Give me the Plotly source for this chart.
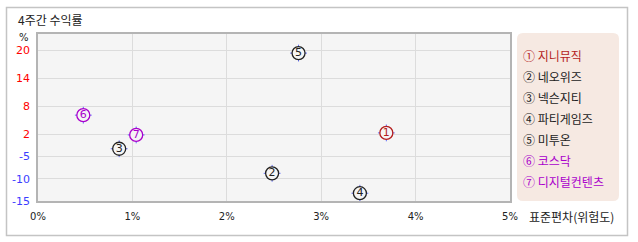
import numpy as np
import plotly.graph_objects as go

# ---- data ----
names = ["지니뮤직", "네오위즈", "넥슨지티", "파티게임즈", "미투온", "코스닥", "디지털컨텐츠"]
marks = ["①", "②", "③", "④", "⑤", "⑥", "⑦"]
digits = ["1", "2", "3", "4", "5", "6", "7"]
risk_std = [3.69, 2.48, 0.86, 3.41, 2.76, 0.48, 1.04]      # % std dev
ret_4w = [2.3, -8.8, -2.6, -13.3, 19.4, 6.1, 1.8]           # % return
colors = ["#b41e1e", "#222222", "#222222", "#222222", "#222222", "#aa00cc", "#aa00cc"]
y_ticks = [-15, -10, -5, 2, 8, 14, 20]
x_ticks = [0, 1, 2, 3, 4, 5]
x_ticktext = ["0%", "1%", "2%", "3%", "4%", "5%"]

# ---- layout geometry ----
W, H = 638, 242
L, R, T, B = 38, 128, 34, 41
PW, PH = W - L - R, H - T - B

# piecewise axis: ticks spaced evenly within negative and positive parts
tick_disp = [0.3, 22.3, 44.7, 66.7, 94.7, 122.7, 150.7]


def ymap(v):
    v = np.asarray(v, dtype=float)
    lo = np.interp(v, y_ticks, tick_disp)
    s_top = (tick_disp[-1] - tick_disp[-2]) / (y_ticks[-1] - y_ticks[-2])
    s_bot = (tick_disp[1] - tick_disp[0]) / (y_ticks[1] - y_ticks[0])
    lo = np.where(v > y_ticks[-1], tick_disp[-1] + (v - y_ticks[-1]) * s_top, lo)
    lo = np.where(v < y_ticks[0], tick_disp[0] + (v - y_ticks[0]) * s_bot, lo)
    return lo


def px(xp):
    return (xp - L) / PW


def py(yp):
    return (H - B - yp) / PH


yd = ymap(ret_4w)
tick_colors = ["#3c3cff" if t < 0 else "#ff0000" for t in y_ticks]

fig = go.Figure()
fig.add_trace(go.Scatter(
    x=risk_std, y=yd, mode="markers", hoverinfo="skip",
    marker=dict(symbol="cross-thin-open", size=12, line=dict(color=colors, width=1)),
))
fig.add_trace(go.Scatter(
    x=risk_std, y=yd, mode="markers+text", text=digits, textposition="middle center",
    textfont=dict(family="DejaVu Sans", size=11, color=colors),
    marker=dict(symbol="circle", size=13, color="#f5f5f5", line=dict(color=colors, width=1.3)),
    hovertext=names,
))

shapes = []
shapes.append(dict(type="rect", xref="paper", yref="paper",
                   x0=px(6.5), x1=px(627.5), y0=py(235.5), y1=py(7.5),
                   line=dict(color="#c4c4c4", width=1.5), fillcolor="rgba(0,0,0,0)", layer="below"))
x0, x1, y0, y1, r = 517, 619, 33, 201, 6
path = (f"M {px(x0 + r)} {py(y0)} L {px(x1 - r)} {py(y0)} "
        f"Q {px(x1)} {py(y0)} {px(x1)} {py(y0 + r)} L {px(x1)} {py(y1 - r)} "
        f"Q {px(x1)} {py(y1)} {px(x1 - r)} {py(y1)} L {px(x0 + r)} {py(y1)} "
        f"Q {px(x0)} {py(y1)} {px(x0)} {py(y1 - r)} L {px(x0)} {py(y0 + r)} "
        f"Q {px(x0)} {py(y0)} {px(x0 + r)} {py(y0)} Z")
shapes.append(dict(type="path", xref="paper", yref="paper", path=path,
                   fillcolor="#f6e9e2", line=dict(width=0), layer="below"))

ann = []
font_k = "Noto Sans CJK KR"
ann.append(dict(text="4주간 수익률", xref="paper", yref="paper", x=px(16), y=py(19),
                xanchor="left", yanchor="middle", showarrow=False,
                font=dict(family=font_k, size=12, color="#222222")))
ann.append(dict(text="%", xref="paper", yref="paper", x=px(24), y=py(37),
                xanchor="center", yanchor="middle", showarrow=False,
                font=dict(family="DejaVu Sans", size=10, color="#222222")))
ann.append(dict(text="표준편차(위험도)", xref="paper", yref="paper", x=px(527), y=py(216),
                xanchor="left", yanchor="middle", showarrow=False,
                font=dict(family=font_k, size=12, color="#222222")))
for i, (m, n, c) in enumerate(zip(marks, names, colors)):
    ann.append(dict(text=f"{m} {n}", xref="paper", yref="paper", x=px(521), y=py(55 + i * 21.1),
                    xanchor="left", yanchor="middle", showarrow=False,
                    font=dict(family=font_k, size=12, color=c)))

fig.update_layout(
    width=W, height=H, margin=dict(l=L, r=R, t=T, b=B),
    paper_bgcolor="white", plot_bgcolor="#f5f5f5", showlegend=False,
    shapes=shapes, annotations=ann,
    xaxis=dict(range=[0, 5], tickvals=x_ticks, ticktext=x_ticktext,
               showgrid=True, gridcolor="#dcdcdc", gridwidth=1,
               showline=True, linecolor="#b4b4b4", linewidth=1.5, mirror=True,
               zeroline=False, ticks="outside", ticklen=5, tickcolor="rgba(0,0,0,0)",
               tickfont=dict(family="DejaVu Sans", size=10, color="#222222")),
    yaxis=dict(range=[0, PH], tickvals=tick_disp,
               ticktext=[f"<span style='color:{c}'>{t}</span>" for c, t in zip(tick_colors, y_ticks)],
               showgrid=True, gridcolor="#dcdcdc", gridwidth=1,
               showline=True, linecolor="#b4b4b4", linewidth=1.5, mirror=True,
               zeroline=False, ticks="outside", ticklen=4, tickcolor="rgba(0,0,0,0)",
               tickfont=dict(family="DejaVu Sans", size=11, color="#222222")),
)

fig.write_html("out.html")
